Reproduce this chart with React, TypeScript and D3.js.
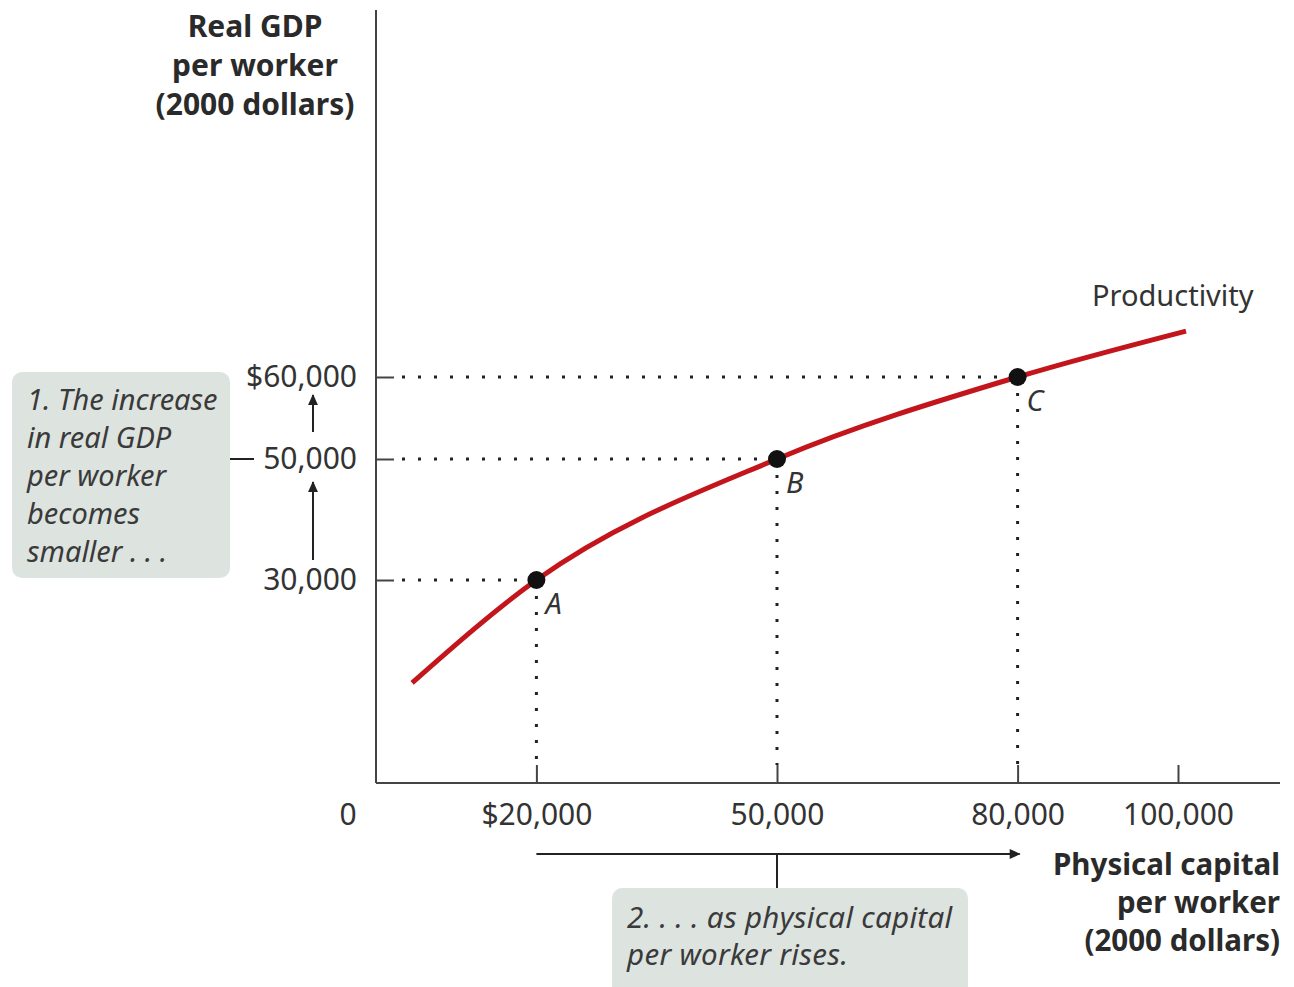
import * as d3 from "d3";
import { useEffect, useRef } from "react";

const width = 1294,
  height = 987,
  originX = 376,
  axisRight = 1280,
  originY = 783,
  axisTop = 10;

const font = "'Noto Sans', 'Open Sans', sans-serif";
const ink = "#333";

const xTicks = [20000, 50000, 80000, 100000];
const xTickLabels = ["$20,000", "50,000", "80,000", "100,000"];
const yTicks = [30000, 50000, 60000];
const yTickLabels = ["30,000", "50,000", "$60,000"];

// productivity curve: physical capital per worker -> real GDP per worker
const capital = [4500, 20000, 50000, 80000, 101000];
const gdp = [14800, 30000, 50000, 60000, 65600];

const pointNames = ["A", "B", "C"];
const pointCapital = [20000, 50000, 80000];
const pointGdp = [30000, 50000, 60000];

const yTitle = ["Real GDP", "per worker", "(2000 dollars)"];
const xTitle = ["Physical capital", "per worker", "(2000 dollars)"];
const note1 = ["1. The increase", "in real GDP", "per worker", "becomes", "smaller . . ."];
const note2 = ["2. . . . as physical capital", "per worker rises."];

export default function App() {
  const ref = useRef<SVGSVGElement | null>(null);

  useEffect(() => {
    if (!ref.current) return;
    const svg = d3.select(ref.current);
    svg.selectAll("*").remove();

    const x = d3.scaleLinear([0, 100000], [originX, 1178]);
    // schematic (not evenly spaced) vertical axis, like the textbook figure
    const y = d3
      .scaleLinear()
      .domain([0, 30000, 50000, 60000])
      .range([originY, 580, 459, 377]);

    svg
      .append("defs")
      .append("marker")
      .attr("id", "head")
      .attr("viewBox", "0 0 10 10")
      .attr("refX", 9)
      .attr("refY", 5)
      .attr("markerWidth", 13)
      .attr("markerHeight", 11)
      .attr("markerUnits", "userSpaceOnUse")
      .attr("orient", "auto")
      .append("path")
      .attr("d", "M0,0.5L10,5L0,9.5z")
      .attr("fill", "#222");

    // annotation boxes
    svg
      .append("rect")
      .attr("x", 12)
      .attr("y", 372)
      .attr("width", 218)
      .attr("height", 206)
      .attr("rx", 10)
      .attr("fill", "#dde3df");
    svg
      .append("rect")
      .attr("x", 612)
      .attr("y", 888)
      .attr("width", 356)
      .attr("height", 120)
      .attr("rx", 10)
      .attr("fill", "#dde3df");

    // x axis
    svg
      .append("line")
      .attr("x1", originX)
      .attr("x2", axisRight)
      .attr("y1", originY)
      .attr("y2", originY)
      .attr("stroke", "#444")
      .attr("stroke-width", 2);
    svg
      .append("g")
      .attr("transform", `translate(0,${originY})`)
      .call(
        d3
          .axisBottom(x)
          .tickValues(xTicks)
          .tickFormat((_, i) => xTickLabels[i])
          .tickSizeInner(-18)
          .tickSizeOuter(0)
          .tickPadding(21)
      )
      .call((g) => g.select(".domain").remove())
      .call((g) => g.selectAll(".tick line").attr("stroke", "#444").attr("stroke-width", 2))
      .call((g) =>
        g
          .selectAll(".tick text")
          .attr("fill", ink)
          .attr("font-family", font)
          .attr("font-size", 30)
      );

    // y axis
    svg
      .append("line")
      .attr("x1", originX)
      .attr("x2", originX)
      .attr("y1", axisTop)
      .attr("y2", originY)
      .attr("stroke", "#444")
      .attr("stroke-width", 2);
    svg
      .append("g")
      .attr("transform", `translate(${originX},0)`)
      .call(
        d3
          .axisLeft(y)
          .tickValues(yTicks)
          .tickFormat((_, i) => yTickLabels[i])
          .tickSizeInner(-18)
          .tickSizeOuter(0)
          .tickPadding(19)
      )
      .call((g) => g.select(".domain").remove())
      .call((g) => g.selectAll(".tick line").attr("stroke", "#444").attr("stroke-width", 2))
      .call((g) =>
        g
          .selectAll(".tick text")
          .attr("fill", ink)
          .attr("font-family", font)
          .attr("font-size", 30)
      );

    svg
      .append("text")
      .attr("x", 348)
      .attr("y", 825)
      .attr("text-anchor", "middle")
      .attr("font-family", font)
      .attr("font-size", 30)
      .attr("fill", ink)
      .text("0");

    // dotted guides
    const guides = svg.append("g").attr("stroke", "#222").attr("stroke-width", 3).attr("stroke-dasharray", "3 13");
    pointCapital.forEach((c, i) => {
      guides
        .append("line")
        .attr("x1", originX + 26)
        .attr("x2", x(c))
        .attr("y1", y(pointGdp[i]))
        .attr("y2", y(pointGdp[i]));
      guides
        .append("line")
        .attr("x1", x(c))
        .attr("x2", x(c))
        .attr("y1", y(pointGdp[i]) + 16)
        .attr("y2", originY - 18);
    });

    // productivity curve
    const line = d3
      .line<number>()
      .x((_, i) => x(capital[i]))
      .y((d) => y(d))
      .curve(d3.curveMonotoneX);
    svg
      .append("path")
      .attr("d", line(gdp))
      .attr("fill", "none")
      .attr("stroke", "#c3161c")
      .attr("stroke-width", 5);

    svg
      .append("text")
      .attr("x", 1092)
      .attr("y", 306)
      .attr("font-family", font)
      .attr("font-size", 29)
      .attr("fill", ink)
      .text("Productivity");

    // points
    pointCapital.forEach((c, i) => {
      svg
        .append("circle")
        .attr("cx", x(c))
        .attr("cy", y(pointGdp[i]))
        .attr("r", 9)
        .attr("fill", "#111");
      svg
        .append("text")
        .attr("x", x(c) + 9)
        .attr("y", y(pointGdp[i]) + 34)
        .attr("font-family", font)
        .attr("font-style", "italic")
        .attr("font-size", 29)
        .attr("fill", ink)
        .text(pointNames[i]);
    });

    // axis titles
    svg
      .append("text")
      .attr("text-anchor", "middle")
      .attr("font-family", font)
      .attr("font-weight", "bold")
      .attr("font-size", 30)
      .attr("fill", "#2a2a2a")
      .selectAll("tspan")
      .data(yTitle)
      .join("tspan")
      .attr("x", 255)
      .attr("y", (_, i) => 37 + i * 39)
      .text((d) => d);
    svg
      .append("text")
      .attr("text-anchor", "end")
      .attr("font-family", font)
      .attr("font-weight", "bold")
      .attr("font-size", 29.5)
      .attr("fill", "#2a2a2a")
      .selectAll("tspan")
      .data(xTitle)
      .join("tspan")
      .attr("x", axisRight)
      .attr("y", (_, i) => 875 + i * 38)
      .text((d) => d);

    // annotation text
    svg
      .append("text")
      .attr("font-family", font)
      .attr("font-style", "italic")
      .attr("font-size", 29)
      .attr("fill", "#3a3a3a")
      .selectAll("tspan")
      .data(note1)
      .join("tspan")
      .attr("x", 27)
      .attr("y", (_, i) => 410 + i * 38)
      .text((d) => d);
    svg
      .append("text")
      .attr("font-family", font)
      .attr("font-style", "italic")
      .attr("font-size", 29.5)
      .attr("letter-spacing", 0.3)
      .attr("fill", "#3a3a3a")
      .selectAll("tspan")
      .data(note2)
      .join("tspan")
      .attr("x", 627)
      .attr("y", (_, i) => 928 + i * 37)
      .text((d) => d);

    // connectors and arrows
    const conn = svg.append("g").attr("stroke", "#222").attr("stroke-width", 2).attr("fill", "none");
    conn
      .append("line")
      .attr("x1", 230)
      .attr("x2", 254)
      .attr("y1", y(50000))
      .attr("y2", y(50000));
    conn
      .append("line")
      .attr("x1", 313)
      .attr("x2", 313)
      .attr("y1", y(30000) - 20)
      .attr("y2", y(50000) + 23)
      .attr("marker-end", "url(#head)");
    conn
      .append("line")
      .attr("x1", 313)
      .attr("x2", 313)
      .attr("y1", y(50000) - 27)
      .attr("y2", y(60000) + 18)
      .attr("marker-end", "url(#head)");
    conn
      .append("line")
      .attr("x1", x(20000))
      .attr("x2", x(80000) + 2)
      .attr("y1", 854)
      .attr("y2", 854)
      .attr("marker-end", "url(#head)");
    conn
      .append("line")
      .attr("x1", x(50000))
      .attr("x2", x(50000))
      .attr("y1", 854)
      .attr("y2", 888);
  }, []);

  return (
    <svg
      ref={ref}
      width={width}
      height={height}
      viewBox={`0 0 ${width} ${height}`}
      style={{ position: "absolute", left: 0, top: 0, background: "#fff" }}
    />
  );
}
